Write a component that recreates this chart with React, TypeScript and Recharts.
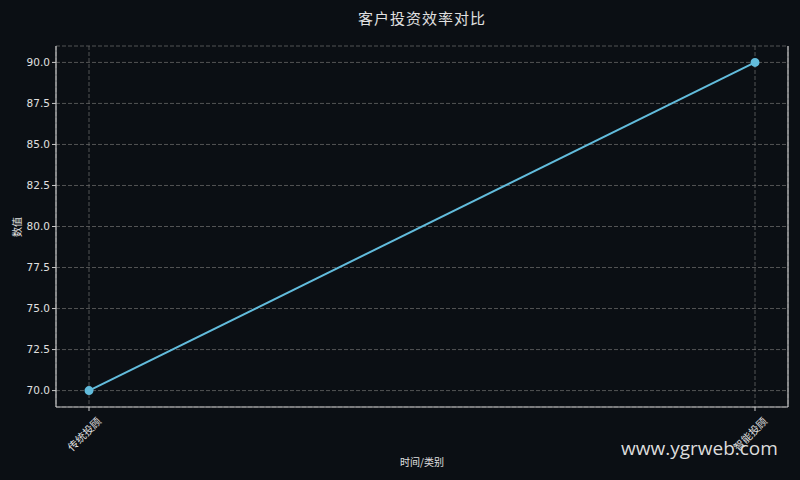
import React from "react";
import { LineChart, Line, XAxis, YAxis, CartesianGrid } from "recharts";

const categories = ["传统投顾", "智能投顾"];
const values = [70, 90];
const yTicks = [70, 72.5, 75, 77.5, 80, 82.5, 85, 87.5, 90];

const data = categories.map((c, i) => ({ name: c, value: values[i] }));

const BG = "#0b0f14";
const AX = "#c8c8c8";
const TXT = "#e0e0e0";
const LINE = "#62bcdc";
const FONT = "'DejaVu Sans', 'Noto Sans CJK SC', sans-serif";

const XTick = (props: any) => {
  const { x, y, payload } = props;
  return (
    <g transform={`translate(${x + 11},${y + 7})`}>
      <text
        transform="rotate(-45)"
        textAnchor="end"
        dominantBaseline="middle"
        fill={TXT}
        fontSize={10.5}
        fontFamily="'Noto Sans CJK SC', sans-serif"
      >
        {payload.value}
      </text>
    </g>
  );
};

export default function App() {
  return (
    <div style={{ position: "absolute", left: 0, top: 0, width: 800, height: 480, background: BG, fontFamily: FONT }}>
      <div
        style={{
          position: "absolute",
          left: 0,
          width: 844,
          top: 7,
          textAlign: "center",
          color: TXT,
          fontSize: 15,
          fontFamily: "'Noto Sans CJK SC', sans-serif",
          letterSpacing: 1,
        }}
      >
        客户投资效率对比
      </div>
      <LineChart
        width={800}
        height={480}
        data={data}
        margin={{ top: 46, right: 11, bottom: 0, left: 0 }}
      >
        <CartesianGrid stroke="#666" strokeDasharray="4 2" strokeWidth={0.8} />
        <XAxis
          dataKey="name"
          padding={{ left: 33, right: 33 }}
          stroke={AX}
          axisLine={{ stroke: AX, strokeWidth: 1.2 }}
          tickLine={{ stroke: AX }}
          tickSize={4}
          tick={<XTick />}
          interval={0}
          height={73}
        />
        <XAxis
          xAxisId="top"
          orientation="top"
          dataKey="name"
          height={0}
          tick={false}
          tickLine={false}
          axisLine={{ stroke: AX, strokeWidth: 1.2 }}
        />
        <YAxis
          domain={[69, 91]}
          ticks={yTicks}
          width={56}
          interval={0}
          stroke={AX}
          axisLine={{ stroke: AX, strokeWidth: 1.2 }}
          tickLine={{ stroke: AX }}
          tickSize={4}
          tick={{ fill: TXT, fontSize: 10.5, fontFamily: FONT }}
          tickFormatter={(v: number) => v.toFixed(1)}
        />
        <YAxis
          yAxisId="right"
          orientation="right"
          domain={[69, 91]}
          width={1}
          tick={false}
          tickLine={false}
          axisLine={{ stroke: AX, strokeWidth: 1.2 }}
        />
        <Line
          type="linear"
          dataKey="value"
          stroke={LINE}
          strokeWidth={2}
          dot={{ r: 3.5, fill: LINE, stroke: LINE }}
          isAnimationActive={false}
        />
      </LineChart>
      <div
        style={{
          position: "absolute",
          left: 0,
          width: 844,
          top: 454,
          textAlign: "center",
          color: TXT,
          fontSize: 10,
          fontFamily: "'Noto Sans CJK SC', sans-serif",
        }}
      >
        时间/类别
      </div>
      <div
        style={{
          position: "absolute",
          left: 8,
          top: 227,
          transform: "translate(-50%,-50%) rotate(-90deg)",
          transformOrigin: "center",
          marginLeft: 8,
          color: TXT,
          fontSize: 10,
          fontFamily: "'Noto Sans CJK SC', sans-serif",
          whiteSpace: "nowrap",
        }}
      >
        数值
      </div>
      <div
        style={{
          position: "absolute",
          left: 621,
          top: 435,
          color: "#dcdcdc",
          fontSize: 19,
          fontFamily: "'Open Sans', 'DejaVu Sans', sans-serif",
        }}
      >
        www.ygrweb.com
      </div>
    </div>
  );
}
